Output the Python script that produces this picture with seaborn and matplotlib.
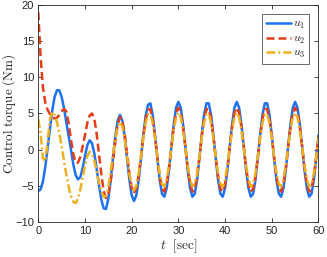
import numpy as np
import pandas as pd
import matplotlib
matplotlib.use('Agg')
import matplotlib.pyplot as plt
import seaborn as sns

# time axis, 0.5 s steps
time = np.arange(0, 60.001, 0.5)

u1 = [-5.7, -5.5, -4.4, -2.4, 0.2, 2.9, 5.4, 7.3, 8.2, 8.2, 7.3, 5.8, 3.8, 1.9, 0.0, -2.0,
      -3.5, -4.1, -3.8, -2.6, -0.9, 0.6, 1.3, 0.9, -0.5, -2.6, -4.9, -6.9, -8.1, -8.2, -6.8, -4.3,
      -1.1, 1.9, 4.0, 4.8, 4.0, 1.8, -1.2, -4.1, -6.3, -7.1, -6.3, -4.2, -1.2, 2.1, 4.7, 6.2,
      6.4, 4.8, 2.0, -1.2, -4.2, -6.1, -6.5, -5.3, -2.8, 0.4, 3.5, 5.8, 6.6, 5.8, 3.5, 0.4,
      -2.8, -5.3, -6.5, -6.1, -4.2, -1.2, 2.0, 4.8, 6.4,
      6.4, 4.8, 2.0, -1.2, -4.2, -6.1, -6.5, -5.3, -2.8, 0.4, 3.5, 5.8, 6.6, 5.8, 3.5, 0.4,
      -2.8, -5.3, -6.5, -6.1, -4.2, -1.2, 2.0, 4.8, 6.4,
      6.4, 4.8, 2.0, -1.2, -4.2, -6.1, -6.5, -5.3, -2.8, 0.4, 3.5, 5.8, 6.6, 5.8, 3.5, 0.4,
      -2.8, -5.3, -6.5, -6.1, -4.2, -1.2, 2.0]

u2 = [19.0, 12.8, 8.6, 6.5, 5.5, 4.9, 4.5, 4.3, 4.4, 4.8, 5.3, 5.6, 5.3, 3.7, 1.4, -0.6,
      -1.8, -1.8, -1.0, 0.4, 2.0, 3.7, 4.7, 5.0, 4.3, 2.2, -0.6, -3.4, -5.7, -6.7, -6.2, -4.4,
      -1.7, 1.2, 3.4, 4.5, 4.0, 2.2, -0.5, -3.2, -5.3, -6.0, -5.3, -3.5, -0.9, 1.9, 4.2, 5.5,
      5.6, 4.2, 1.8, -1.1, -3.7, -5.4, -5.8, -4.7, -2.5, 0.4, 3.1, 5.1, 5.8, 5.1, 3.1, 0.4,
      -2.5, -4.7, -5.8, -5.4, -3.7, -1.1, 1.8, 4.2, 5.6,
      5.6, 4.2, 1.8, -1.1, -3.7, -5.4, -5.8, -4.7, -2.5, 0.4, 3.1, 5.1, 5.8, 5.1, 3.1, 0.4,
      -2.5, -4.7, -5.8, -5.4, -3.7, -1.1, 1.8, 4.2, 5.6,
      5.6, 4.2, 1.8, -1.1, -3.7, -5.4, -5.8, -4.7, -2.5, 0.4, 3.1, 5.1, 5.8, 5.1, 3.1, 0.4,
      -2.5, -4.7, -5.8, -5.4, -3.7, -1.1, 1.8]

u3 = [4.2, 2.3, -1.2, -1.6, 1.0, 4.2, 5.2, 4.8, 3.8, 2.3, 0.5, -1.5, -3.4, -5.1, -6.4, -7.2,
      -7.4, -6.8, -5.5, -3.9, -2.2, -0.9, -0.3, -0.6, -1.5, -3.0, -4.6, -5.8, -6.5, -6.4, -5.2, -3.1,
      -0.7, 1.6, 3.2, 3.8, 3.2, 1.5, -0.9, -3.3, -5.0, -5.6, -5.0, -3.3, -0.9, 1.6, 3.7, 4.9,
      4.9, 3.7, 1.6, -1.0, -3.3, -4.7, -5.1, -4.1, -2.2, 0.3, 2.7, 4.5, 5.1, 4.5, 2.7, 0.3,
      -2.2, -4.1, -5.1, -4.7, -3.3, -1.0, 1.6, 3.7, 4.9,
      4.9, 3.7, 1.6, -1.0, -3.3, -4.7, -5.1, -4.1, -2.2, 0.3, 2.7, 4.5, 5.1, 4.5, 2.7, 0.3,
      -2.2, -4.1, -5.1, -4.7, -3.3, -1.0, 1.6, 3.7, 4.9,
      4.9, 3.7, 1.6, -1.0, -3.3, -4.7, -5.1, -4.1, -2.2, 0.3, 2.7, 4.5, 5.1, 4.5, 2.7, 0.3,
      -2.2, -4.1, -5.1, -4.7, -3.3, -1.0, 1.6]

labels = [r'$u_1$', r'$u_2$', r'$u_3$']
colors = ['#1f72ee', '#e43d17', '#edb120']
styles = ['-', (0, (3.2, 1.6)), (0, (3.5, 1.2, 0.8, 1.2))]

sns.set_style('ticks')
plt.rcParams['mathtext.fontset'] = 'cm'
plt.rcParams['font.family'] = ['Liberation Sans', 'DejaVu Sans']

df = pd.DataFrame({'t': time, 'u1': u1, 'u2': u2, 'u3': u3})

fig = plt.figure(figsize=(3.27, 2.57), dpi=100)
ax = fig.add_axes([0.117, 0.136, 0.857, 0.845])

for col, lab, c, ls in zip(['u1', 'u2', 'u3'], labels, colors, styles):
    sns.lineplot(data=df, x='t', y=col, ax=ax, color=c, lw=1.8, label=lab, linestyle=ls)

ax.set_xlim(0, 60)
ax.set_ylim(-10, 20)
ax.set_xticks(range(0, 61, 10))
ax.set_yticks(range(-10, 21, 5))
ax.tick_params(direction='in', length=3, width=0.6, labelsize=8, colors='#262626',
               labelcolor='#262626', top=True, right=True, pad=3)
for s in ax.spines.values():
    s.set_visible(True)
    s.set_linewidth(0.6)
    s.set_color('#262626')

ax.set_xlabel(r'$t\ \ \mathrm{[sec]}$', fontsize=9.5, labelpad=1)
ax.set_ylabel(r'$\mathrm{Control\ torque\ (Nm)}$', fontsize=9.5, va='center')
ax.yaxis.set_label_coords(-0.105, 0.5)

leg = ax.legend(loc='upper right', fontsize=8.5, frameon=True, fancybox=False,
                handlelength=2.1, borderpad=0.3, labelspacing=0.15, handletextpad=0.2,
                borderaxespad=0.8)
leg.get_frame().set_edgecolor('#262626')
leg.get_frame().set_linewidth(0.6)

fig.savefig('out.png', dpi=100)
